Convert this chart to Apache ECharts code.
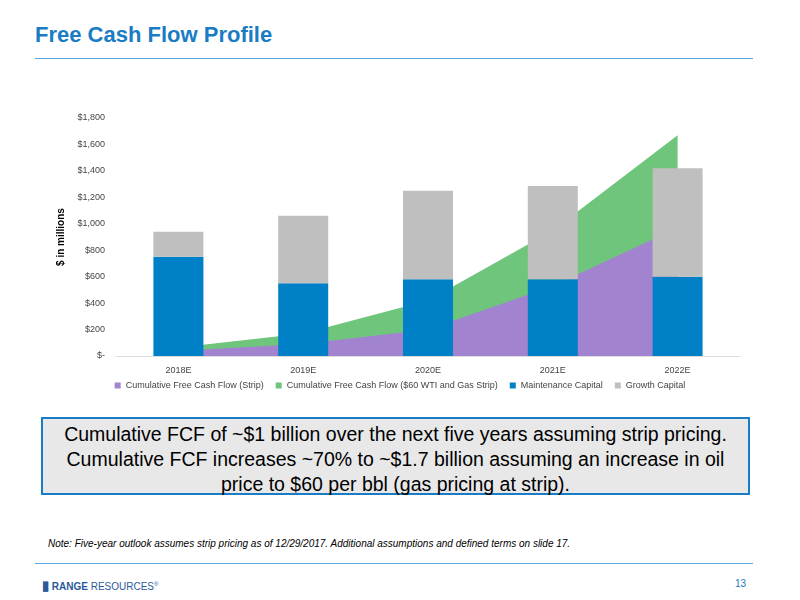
<!DOCTYPE html>
<html><head><meta charset="utf-8">
<script src="https://cdn.jsdelivr.net/npm/echarts@6/dist/echarts.min.js"></script>
<style>
body{margin:0;width:800px;height:600px;position:relative;font-family:Arial,"Liberation Sans",sans-serif;background:#fff;overflow:hidden}
#title{position:absolute;left:35px;top:22px;font-size:22px;font-weight:bold;color:#1a7cc4}
#tl{position:absolute;left:35px;top:58px;width:718px;height:1px;background:#5aa8dc}
#chart{position:absolute;left:40px;top:100px;width:720px;height:300px}
#box{position:absolute;left:41px;top:417px;width:709px;height:78px;background:#e8e8e8;border:2px solid #1a7cc4;font-size:19.5px;text-align:center;line-height:25px;padding-top:3px;box-sizing:border-box}
#note{position:absolute;left:48px;top:538px;font-size:10px;font-style:italic}
#fl{position:absolute;left:35px;top:563px;width:718px;height:1px;background:#5aa8dc}
#logo{position:absolute;left:42px;top:578px;font-size:10px;color:#2a5a9c}
#pg{position:absolute;left:735px;top:578px;font-size:10px;color:#1a7cc4}
</style></head><body>
<div id="title">Free Cash Flow Profile</div><div id="tl"></div>
<div id="chart"></div>
<div id="box">Cumulative FCF of ~$1 billion over the next five years assuming strip pricing. Cumulative FCF increases ~70% to ~$1.7 billion assuming an increase in oil price to $60 per bbl (gas pricing at strip).</div>
<div id="note">Note: Five-year outlook assumes strip pricing as of 12/29/2017.  Additional assumptions and defined terms on slide 17.</div>
<div id="fl"></div>
<div id="logo"><b style="font-size:13px">&#9646;</b> <b>RANGE</b> RESOURCES<sup style="font-size:6px">®</sup></div>
<div id="pg">13</div>
<script>
const categories=['2018E','2019E','2020E','2021E','2022E'];
const fcfStrip=[40,90,200,530,970];
const fcf60=[65,170,420,950,1670];
const maintenance=[750,550,580,580,600];
const growth=[190,510,670,705,820];
const c=echarts.init(document.getElementById('chart'));
c.setOption({
 animation:false,
 grid:{left:76,right:20,top:18,bottom:44},
 legend:{bottom:5,itemWidth:6,itemHeight:6,itemGap:12,textStyle:{fontSize:9,color:'#444'},icon:'rect',
  data:['Cumulative Free Cash Flow (Strip)','Cumulative Free Cash Flow ($60 WTI and Gas Strip)','Maintenance Capital','Growth Capital']},
 xAxis:{type:'category',data:categories,axisTick:{show:false},axisLine:{lineStyle:{color:'#ddd'}},axisLabel:{fontSize:9,color:'#444',margin:10}},
 yAxis:{type:'value',min:0,max:1800,interval:200,splitLine:{show:false},name:'$ in millions',nameLocation:'middle',nameGap:50,nameRotate:90,
  nameTextStyle:{fontSize:10,fontWeight:'bold',color:'#000'},
  axisLabel:{fontSize:9,color:'#444',margin:11,formatter:v=>v===0?'$-':'$'+v.toLocaleString('en-US')}},
 series:[
  {name:'Cumulative Free Cash Flow ($60 WTI and Gas Strip)',type:'line',data:fcf60,symbol:'none',lineStyle:{width:0},areaStyle:{color:'#70c57c',opacity:1},itemStyle:{color:'#70c57c'},z:1},
  {name:'Cumulative Free Cash Flow (Strip)',type:'line',data:fcfStrip,symbol:'none',lineStyle:{width:0},areaStyle:{color:'#a283d0',opacity:1},itemStyle:{color:'#a283d0'},z:2},
  {name:'Maintenance Capital',type:'bar',stack:'cap',data:maintenance,barWidth:50,itemStyle:{color:'#0080c6'},z:3},
  {name:'Growth Capital',type:'bar',stack:'cap',data:growth,itemStyle:{color:'#bfbfbf'},z:3}
 ]
});
</script></body></html>
